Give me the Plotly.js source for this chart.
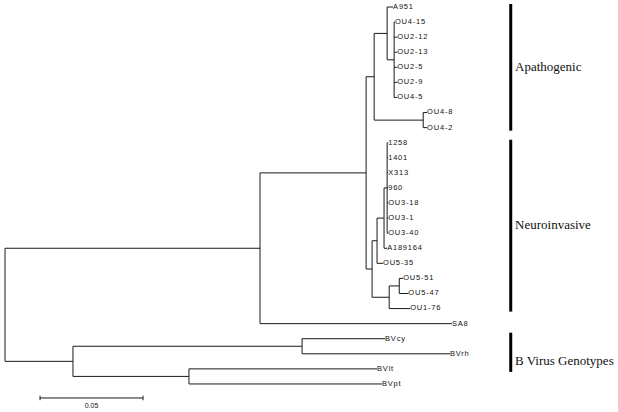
<!DOCTYPE html>
<html><head><meta charset="utf-8">
<script src="https://cdn.plot.ly/plotly-3.0.1.min.js"></script>
<style>
html,body{margin:0;padding:0;background:#fff;}
#plot .scatterlayer .trace:nth-child(2) .textpoint text{letter-spacing:0.8px;}
</style>
</head><body>
<div id="plot" style="width:618px;height:412px;"></div>
<script>
// Tree topology: node, parent, branch length (substitutions/site). Children listed top-to-bottom.
var nodeIds = ["root","I","G","AP","A1","A951","C1","OU4-15","OU2-12","OU2-13","OU2-5","OU2-9","OU4-5",
  "A2","OU4-8","OU4-2","N","N1","N2","C2","1258","1401","X313","960","OU3-18","OU3-1","OU3-40",
  "A189164","OU5-35","N3","N4","OU5-51","OU5-47","OU1-76","SA8","BV","BV1","BVcy","BVrh","BV2","BVlt","BVpt"];
var parentIds = [null,"root","I","G","AP","A1","A1","C1","C1","C1","C1","C1","C1",
  "AP","A2","A2","G","N","N1","N2","C2","C2","C2","C2","C2","C2","C2",
  "N2","N1","N","N3","N4","N4","N3","I","root","BV","BV1","BV1","BV","BV2","BV2"];
var branchLengths = [0,0.1238,0.0515,0.0039,0.0063,0.0029,0.0034,0.0004,0.0015,0.0015,0.0015,0.0015,0.0015,
  0.0238,0.0019,0.0019,0.0029,0.0024,0.0034,0.0015,0.0005,0.0005,0.0005,0.0005,0.0005,0.0005,0.0005,
  0.0015,0.0029,0.0083,0.0049,0.0019,0.0044,0.0102,0.0932,0.0330,0.1112,0.0403,0.0718,0.0563,0.0913,0.0937];
// Clade groups: label, first leaf, last leaf
var groupNames = ["Apathogenic","Neuroinvasive","B Virus Genotypes"];
var groupFirst = ["A951","1258","BVcy"];
var groupLast = ["OU4-2","OU1-76","BVpt"];
var scaleBarLength = 0.05;
var scaleBarLabel = "0.05";

// build tree
var nodes = {};
nodeIds.forEach(function(id,i){ nodes[id] = {id:id, parent:parentIds[i], len:branchLengths[i], children:[]}; });
nodeIds.forEach(function(id){ var p = nodes[id].parent; if(p) nodes[p].children.push(id); });
var leafCounter = 0;
function layoutNode(id, px){
  var n = nodes[id];
  n.x = px + n.len;
  if(n.children.length===0){ n.y = leafCounter++; n.leaf=true; }
  else {
    n.children.forEach(function(c){ layoutNode(c, n.x); });
    var f = nodes[n.children[0]].y, l = nodes[n.children[n.children.length-1]].y;
    n.y = (f+l)/2; n.y0=f; n.y1=l;
  }
}
layoutNode("root", 0);

var lx=[], ly=[];
nodeIds.forEach(function(id){
  var n = nodes[id];
  if(n.parent){ var p = nodes[n.parent]; lx.push(p.x, n.x, null); ly.push(n.y, n.y, null); }
  if(!n.leaf){ lx.push(n.x, n.x, null); ly.push(n.y0, n.y1, null); }
});
var tx=[], ty=[], tt=[];
nodeIds.forEach(function(id){ var n=nodes[id]; if(n.leaf){ tx.push(n.x); ty.push(n.y); tt.push(id); } });

var xStart = -0.002427, xEnd = 0.297573;
var barX = 0.2455, labX = 0.2476;
var bx=[], by=[], gx=[], gy=[];
var topPad = [0.2,0.2,0.4], botPad = [0.2,0.2,-0.8];
groupNames.forEach(function(g,i){
  var a = nodes[groupFirst[i]].y, b = nodes[groupLast[i]].y;
  bx.push(barX, barX, null); by.push(a-topPad[i], b+botPad[i], null);
  gx.push(labX); gy.push((a+b)/2);
});

var sbX0 = 0.0170, sbY = 25.93;
var traces = [
  {x:lx, y:ly, mode:"lines", line:{color:"#1a1a1a", width:1}, hoverinfo:"skip"},
  {x:tx, y:ty, mode:"text", text:tt, textposition:"middle right",
   textfont:{family:"Liberation Sans, Arial, sans-serif", size:7.5, color:"#111"}, hoverinfo:"skip"},
  {x:bx, y:by, mode:"lines", line:{color:"#000", width:3}, hoverinfo:"skip"},
  {x:gx, y:gy, mode:"text", text:groupNames, textposition:"middle right",
   textfont:{family:"Liberation Serif, Times New Roman, serif", size:13, color:"#111"}, hoverinfo:"skip"},
  {x:[sbX0, sbX0+scaleBarLength], y:[sbY, sbY], mode:"lines", line:{color:"#1a1a1a", width:1}, hoverinfo:"skip"},
  {x:[sbX0, sbX0, null, sbX0+scaleBarLength, sbX0+scaleBarLength], y:[sbY-0.15, sbY+0.15, null, sbY-0.15, sbY+0.15],
   mode:"lines", line:{color:"#1a1a1a", width:1}, hoverinfo:"skip"},
  {x:[sbX0+scaleBarLength/2], y:[sbY+0.55], mode:"text", text:[scaleBarLabel], textposition:"middle center",
   textfont:{family:"Liberation Sans, Arial, sans-serif", size:7, color:"#111"}, hoverinfo:"skip"}
];
var layout = {
  width:618, height:412, margin:{l:0,r:0,t:0,b:0}, showlegend:false,
  paper_bgcolor:"#fff", plot_bgcolor:"#fff",
  xaxis:{range:[xStart,xEnd], visible:false, fixedrange:true},
  yaxis:{range:[26.86,-0.466], visible:false, fixedrange:true}
};
Plotly.newPlot("plot", traces, layout, {staticPlot:true, displayModeBar:false});
</script>
</body></html>
